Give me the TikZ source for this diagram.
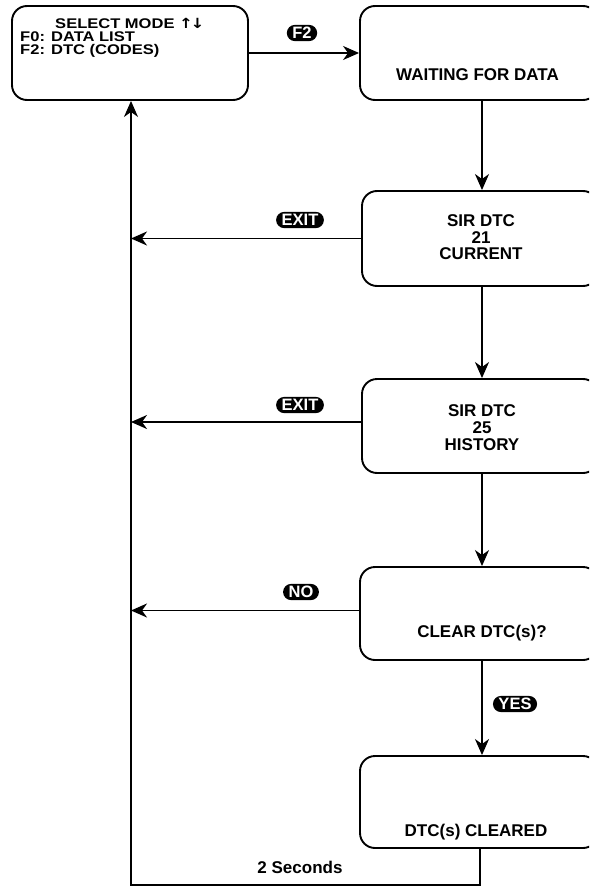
\documentclass[tikz,border=0pt]{standalone}
\usepackage{fontspec}
\setmainfont{Liberation Sans}
\newfontfamily\symfont{DejaVu Sans}
\usetikzlibrary{arrows.meta,shapes.misc}
\begin{document}
\begin{tikzpicture}[x=1pt,y=-1pt,
  box/.style={draw, line width=1.9pt, rounded corners=15pt, inner sep=0pt},
  txt/.style={font=\bfseries\fontsize{17}{17}\selectfont, inner sep=0pt, anchor=base},
  txtl/.style={font=\bfseries\fontsize{14}{14}\selectfont, inner sep=0pt, anchor=base west, xscale=1.18},
  pill/.style={rounded rectangle, fill=black, text=white, font=\bfseries\fontsize{16.5}{16.5}\selectfont, inner xsep=3pt, inner ysep=2.2pt, text height=11.8pt, text depth=0pt},
  conn/.style={line width=1.9pt},
  arr/.style={conn, -{Stealth[length=16pt, width=14pt, inset=5pt]}},
]
\useasboundingbox (0,0) rectangle (589,888);
\clip (0,0) rectangle (589,888);
% boxes
\node[box, minimum width=236pt, minimum height=94pt] (b1) at (130,53) {};
\node[box, minimum width=238pt, minimum height=94pt] (b2) at (479,53) {};
\node[box, minimum width=236pt, minimum height=95pt] (b3) at (480,238.5) {};
\node[box, minimum width=236pt, minimum height=94pt] (b4) at (480,426) {};
\node[box, minimum width=238pt, minimum height=93pt] (b5) at (479,613.5) {};
\node[box, minimum width=238pt, minimum height=92pt] (b6) at (479,802) {};
% texts
\node[txtl] (t1a) at (55,29) {SELECT MODE {\symfont\bfseries\fontsize{14}{14}\selectfont ↑\kern-2pt↓}};
\node[txtl] (t1b) at (20,42) {F0: DATA LIST};
\node[txtl] (t1c) at (20,55) {F2: DTC (CODES)};
\node[txt] (t2) at (477.5,81) {WAITING FOR DATA};
\node[txt] (t3a) at (481,226) {SIR DTC};
\node[txt] (t3b) at (481,243) {21};
\node[txt] (t3c) at (481,259) {CURRENT};
\node[txt] (t4a) at (482,416) {SIR DTC};
\node[txt] (t4b) at (482,433) {25};
\node[txt] (t4c) at (482,450) {HISTORY};
\node[txt] (t5) at (482,637) {CLEAR DTC(s)?};
\node[txt] (t6) at (476,836) {DTC(s) CLEARED};
\node[txt] (t7) at (300,873) {2 Seconds};
% labels
\node[pill] (pf2) at (302,33) {F2};
\node[pill] (pe1) at (300,220) {EXIT};
\node[pill] (pe2) at (300,405) {EXIT};
\node[pill] (pno) at (301,592) {NO};
\node[pill] (pyes) at (515,704) {YES};
% helper coordinates
\coordinate (ax) at (482,0);
\coordinate (lx) at (131,0);
\coordinate (bx) at (480,0);
\coordinate (bot) at (131,885);
% connectors
\draw[arr] (b1.east) -- (b2.west);
\draw[arr] (b2.south -| ax) -- (b3.north -| ax);
\draw[arr] (b3.south -| ax) -- (b4.north -| ax);
\draw[arr] (b4.south -| ax) -- (b5.north -| ax);
\draw[arr] (b5.south -| ax) -- (b6.north -| ax);
\draw[arr] (b3.west) -- (b3.west -| lx);
\draw[arr] ([yshift=4pt]b4.west) -- ([yshift=4pt]b4.west -| lx);
\draw[arr] ([yshift=3pt]b5.west) -- ([yshift=3pt]b5.west -| lx);
\draw[arr] (b6.south -| bx) |- (bot) -- (b1.south -| bot);
\end{tikzpicture}
\end{document}
